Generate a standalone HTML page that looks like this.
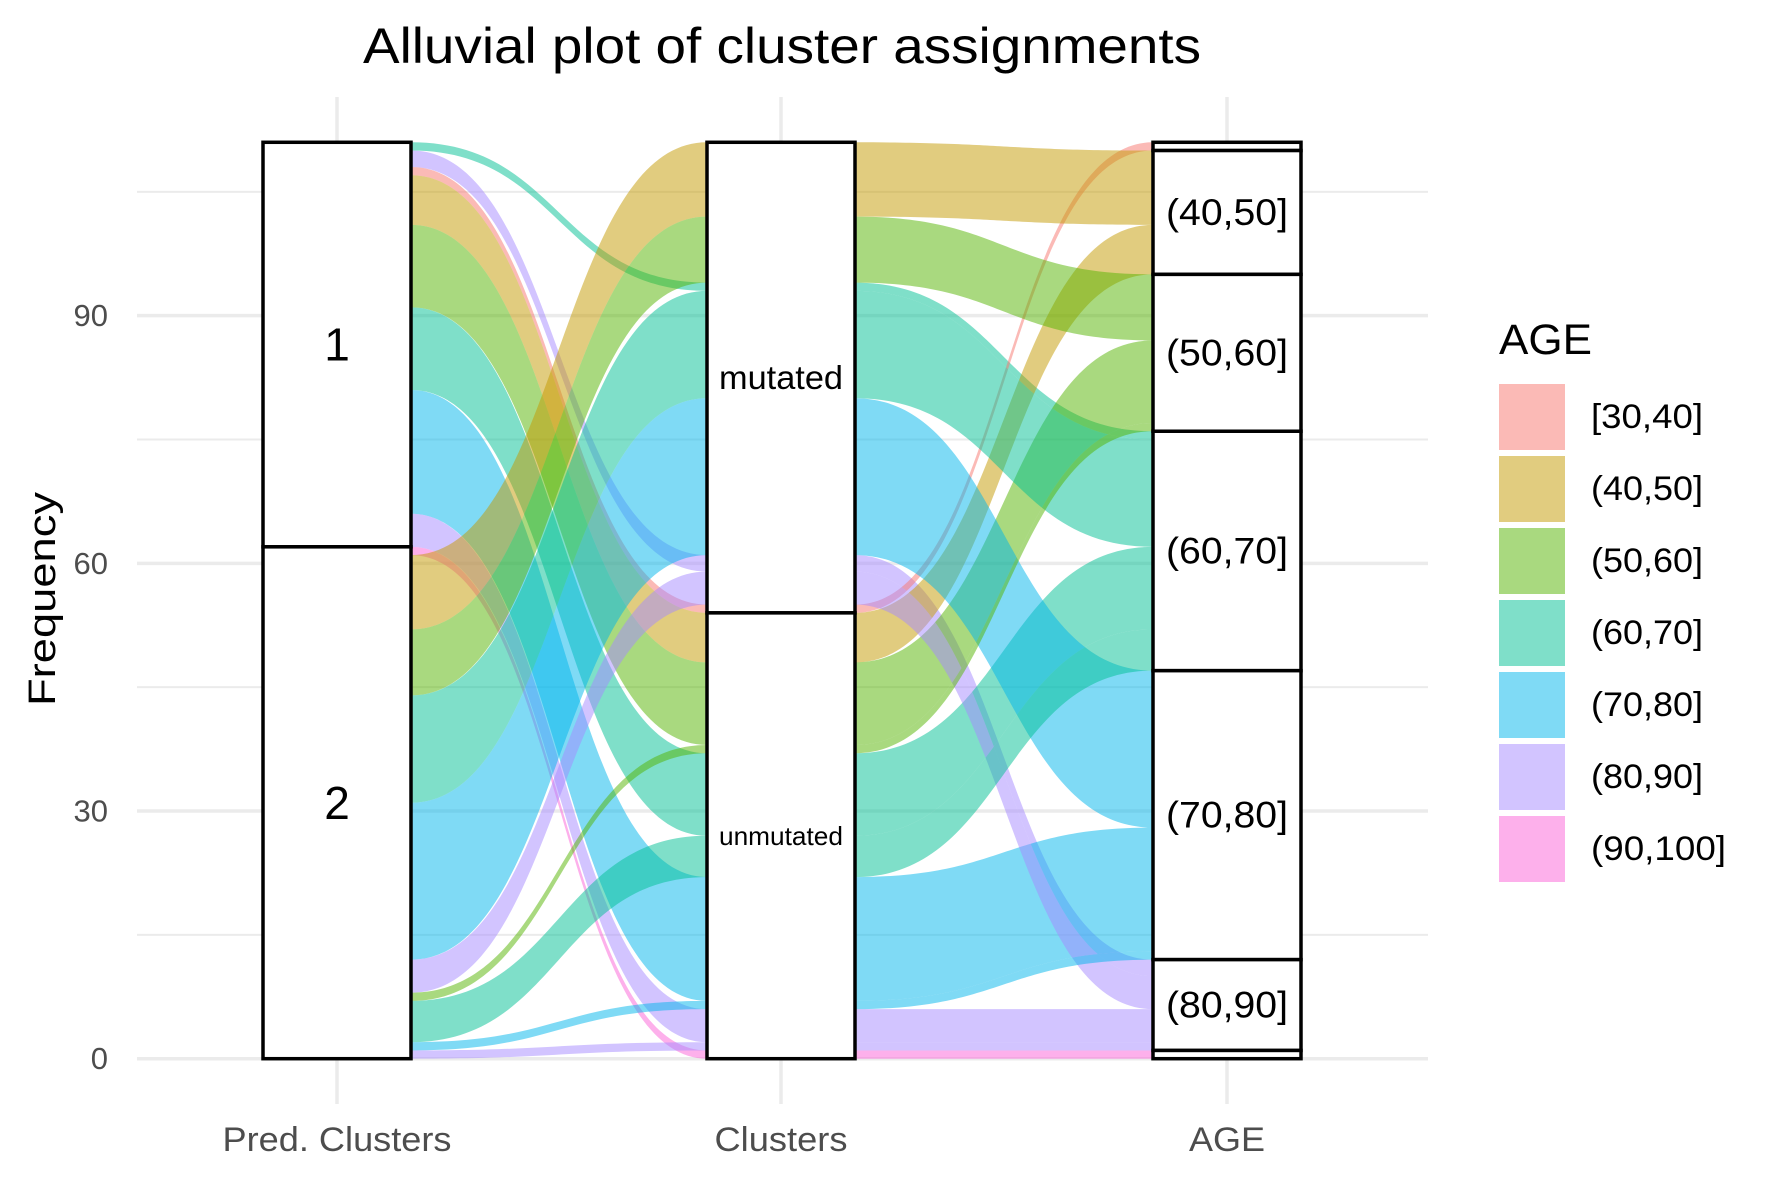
<!DOCTYPE html>
<html><head><meta charset="utf-8">
<style>
html,body{margin:0;padding:0;background:#fff;}
svg{display:block;font-family:"Liberation Sans",Arial,sans-serif;}
</style></head>
<body>
<svg id="chart" width="1771" height="1181" viewBox="0 0 1771 1181" xmlns="http://www.w3.org/2000/svg">
  <rect x="0" y="0" width="1771" height="1181" fill="#fff"/>
  <g id="grid"></g>
  <g id="flows"></g>
  <g id="strata"></g>
  <g id="axes"></g>
  <text x="782" y="63" font-size="50" text-anchor="middle" textLength="838" lengthAdjust="spacingAndGlyphs" fill="#000">Alluvial plot of cluster assignments</text>
  <text transform="translate(55,599) rotate(-90)" font-size="38" text-anchor="middle" textLength="214" lengthAdjust="spacingAndGlyphs" fill="#000">Frequency</text>
  <g id="legend">
    <text x="1499" y="354" font-size="43" textLength="93" lengthAdjust="spacingAndGlyphs" fill="#000">AGE</text>
  </g>
</svg>
<script>
// ---- data ----
const axisNames = ['Pred. Clusters', 'Clusters', 'AGE'];
const predLevels = ['1', '2'];
const clusterLevels = ['mutated', 'unmutated'];
const ageLevels = ['[30,40]', '(40,50]', '(50,60]', '(60,70]', '(70,80]', '(80,90]', '(90,100]'];
const ageColors = ['#F8766D', '#C49A00', '#53B400', '#00C094', '#00B6EB', '#A58AFF', '#FB61D7'];
// alluvia (one entry per flow)
const flowPred    = [0,0,0,0,0,0,0,0, 1,1,1,1,1,1,1,1,1,1];
const flowCluster = [0,0,0,1,1,1,1,1, 1,0,0,0,0,0,1,1,1,1];
const flowAge     = [3,5,0,1,2,3,4,5, 6,1,2,3,4,5,2,3,4,5];
const flowCount   = [1,2,1,6,10,10,15,4, 1,9,8,13,19,4,1,5,1,1];
// lode order (top to bottom) at each axis
const predOrder = [0,1,2,3,4,5,6,7,8,9,10,11,12,13,14,15,16,17];
const clusterOrder = [9,10,0,11,12,1,13,2, 3,4,14,5,15,6,16,7,17,8];
const yTicks = [0, 30, 60, 90];
const yMinor = [15, 45, 75, 105];

// ---- scales ----
const NS = 'http://www.w3.org/2000/svg';
const y0px = 1058.7, pxPerUnit = 8.256;
function yScale(v){ return y0px - v * pxPerUnit; }
const axisX = [337, 781, 1227];
const halfW = 74;
function xScale(i){ return axisX[i]; }

const total = flowCount.reduce((a,b)=>a+b,0);
const ageOrder = clusterOrder.slice().sort((a,b)=>flowAge[a]-flowAge[b]);
const stratOf = [flowPred, flowCluster, flowAge];
const levelsOf = [predLevels, clusterLevels, ageLevels];

function stack(order){
  const top = {}, bot = {};
  let cum = total;
  order.forEach(i=>{ top[i] = cum; cum -= flowCount[i]; bot[i] = cum; });
  return {top, bot};
}
const stacks = [stack(predOrder), stack(clusterOrder), stack(ageOrder)];

function el(tag, attrs, parent){
  const e = document.createElementNS(NS, tag);
  for (const k in attrs) e.setAttribute(k, attrs[k]);
  parent.appendChild(e);
  return e;
}

// ---- grid ----
const grid = document.getElementById('grid');
yMinor.forEach(v=>{
  const l = el('line', {x1:137, x2:1428, y1:yScale(v), y2:yScale(v), stroke:'#ebebeb', 'stroke-width':2}, grid);
  
  
});
yTicks.forEach(v=>{
  const l = el('line', {x1:137, x2:1428, y1:yScale(v), y2:yScale(v), stroke:'#ebebeb', 'stroke-width':3.5}, grid);
  
  
});
axisX.forEach((x,i)=>{
  const l = el('line', {x1:x, x2:x, y1:97, y2:1104, stroke:'#ebebeb', 'stroke-width':3.5}, grid);
  
  
});

// ---- flows ----
const flows = document.getElementById('flows');
for (let a = 0; a < 2; a++){
  const xa = xScale(a) + halfW, xb = xScale(a+1) - halfW, xm = (xa + xb) / 2;
  for (let i = 0; i < flowCount.length; i++){
    const t1 = yScale(stacks[a].top[i]), b1 = yScale(stacks[a].bot[i]);
    const t2 = yScale(stacks[a+1].top[i]), b2 = yScale(stacks[a+1].bot[i]);
    const d = `M${xa},${t1} C${xm},${t1} ${xm},${t2} ${xb},${t2} L${xb},${b2} C${xm},${b2} ${xm},${b1} ${xa},${b1} Z`;
    const p = el('path', {d, fill:ageColors[flowAge[i]], 'fill-opacity':0.5}, flows);
    
    
  }
}

// ---- strata ----
const strata = document.getElementById('strata');
const labelSizes = [46, 33, 37];
for (let a = 0; a < 3; a++){
  const levels = levelsOf[a];
  let cum = total;
  levels.forEach((lv, s)=>{
    let n = 0;
    for (let i = 0; i < flowCount.length; i++) if (stratOf[a][i] === s) n += flowCount[i];
    const top = cum, bot = cum - n; cum = bot;
    const r = el('rect', {x:xScale(a)-halfW, y:yScale(top), width:2*halfW, height:yScale(bot)-yScale(top), fill:'#fff', stroke:'#000', 'stroke-width':3.5}, strata);
    
    
    if (n >= 3){
      let fs = labelSizes[a];
      if (a === 1 && s === 1) fs = 26;
      const t = el('text', {x:xScale(a), y:(yScale(top)+yScale(bot))/2, 'font-size':fs, 'text-anchor':'middle', 'dominant-baseline':'central', fill:'#000'}, strata);
      if (a === 1) { t.setAttribute('textLength', 124); t.setAttribute('lengthAdjust', 'spacingAndGlyphs'); }
      if (a === 2) { t.setAttribute('textLength', 122); t.setAttribute('lengthAdjust', 'spacingAndGlyphs'); }
      t.textContent = lv;
      
      
    }
  });
}

// ---- axes labels ----
const axes = document.getElementById('axes');
yTicks.forEach(v=>{
  const t = el('text', {x:108, y:yScale(v), 'font-size':31, 'text-anchor':'end', 'dominant-baseline':'central', fill:'#4d4d4d'}, axes);
  t.textContent = v;
  
  
});
const xLabelW = [229, 133, 76];
axisNames.forEach((nm,i)=>{
  const t = el('text', {x:xScale(i), y:1151, 'font-size':34, 'text-anchor':'middle', textLength:xLabelW[i], lengthAdjust:'spacingAndGlyphs', fill:'#4d4d4d'}, axes);
  t.textContent = nm;
  
  
});

// ---- legend ----
const legend = document.getElementById('legend');
ageLevels.forEach((lv, k)=>{
  const y = 384 + k * 72;
  const r = el('rect', {x:1499, y, width:66, height:66, fill:ageColors[k], 'fill-opacity':0.5}, legend);
  
  
  const t = el('text', {x:1591, y:y+33, 'font-size':34, 'dominant-baseline':'central', fill:'#000'}, legend);
  t.setAttribute('textLength', lv.length === 8 ? 135 : 112);
  t.setAttribute('lengthAdjust', 'spacingAndGlyphs');
  t.textContent = lv;
  
  
});
</script>
</body></html>
